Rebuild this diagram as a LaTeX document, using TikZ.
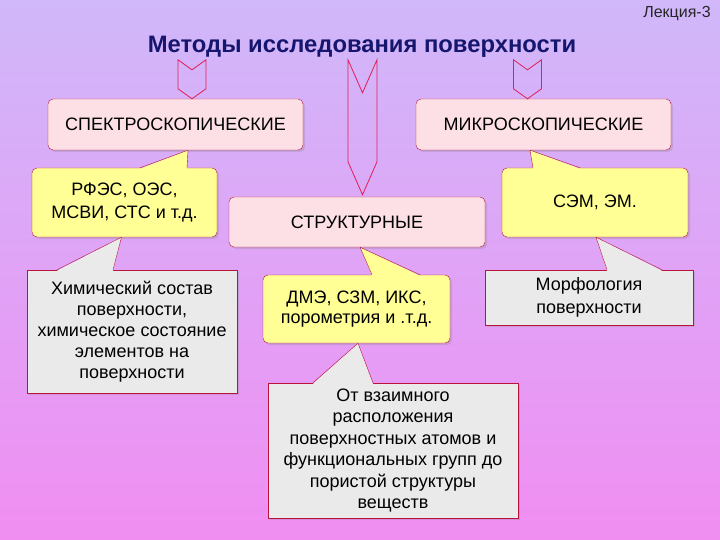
\documentclass[tikz,border=0pt]{standalone}
\usepackage{fontspec}
\setmainfont{Liberation Sans}
\usetikzlibrary{shadows}
\definecolor{bgtop}{RGB}{208,184,250}
\definecolor{bgbot}{RGB}{240,142,242}
\definecolor{boxpink}{RGB}{252,224,230}
\definecolor{calyellow}{RGB}{255,255,150}
\definecolor{calgray}{RGB}{234,234,234}
\definecolor{edgered}{RGB}{185,20,60}
\definecolor{arrowred}{RGB}{225,30,85}
\definecolor{titleblue}{RGB}{22,22,110}

\begin{document}
\begin{tikzpicture}[x=1pt, y=-1pt,
    every node/.style={font=\fontsize{18}{21}\selectfont, inner sep=2pt},
    kind/.style={draw=edgered, rounded corners=5pt, fill=boxpink, minimum width=255pt, minimum height=51pt,
        drop shadow={shadow xshift=2pt, shadow yshift=-2pt, opacity=0.25}},
    yellowbox/.style={draw=edgered, rounded corners=5pt, fill=calyellow, align=center,
        drop shadow={shadow xshift=2pt, shadow yshift=-2pt, opacity=0.25}},
    graybox/.style={draw=edgered, fill=calgray, align=center,
        drop shadow={shadow xshift=2pt, shadow yshift=-2pt, opacity=0.25}},
    tailline/.style={draw=edgered, line join=round},
    blockarrow/.style={draw=arrowred, line width=0.8pt, line join=miter}
]
% background
\shade[top color=bgtop, bottom color=bgbot] (0,0) rectangle (720,540);

\node[font=\fontsize{16}{18}\selectfont, text=black!85] (lecture) at (677,14) {Лекция-3};
\node[font=\fontsize{23.8}{26}\selectfont\bfseries, text=titleblue] (title) at (362,47) {Методы исследования поверхности};

% three kinds of methods
\node[kind] (spec) at (175.5,124.5) {СПЕКТРОСКОПИЧЕСКИЕ};
\node[kind] (micro) at (543.5,124.5) {МИКРОСКОПИЧЕСКИЕ};
\node[kind, minimum width=256pt, minimum height=50pt] (struct) at (357,222) {СТРУКТУРНЫЕ};

% block arrows from the title
\draw[blockarrow] ([xshift=16.5pt]spec.north) -- ++(-14,-10) -- ++(0,-29) -- ++(14,10) -- ++(14,-10) -- ++(0,29) -- cycle;
\draw[blockarrow] ([xshift=-16pt]micro.north) -- ++(-14,-10) -- ++(0,-29) -- ++(14,10) -- ++(14,-10) -- ++(0,29) -- cycle;
\draw[blockarrow] ([xshift=5.5pt,yshift=2pt]struct.north) -- ++(-14.5,-33) -- ++(0,-102) -- ++(14.5,33) -- ++(14.5,-33) -- ++(0,102) -- cycle;

% methods
\node[yellowbox, minimum width=185pt, minimum height=69pt, font=\fontsize{18}{23}\selectfont] (rfes) at (124.5,202.5) {РФЭС, ОЭС,\\МСВИ, СТС и т.д.};
\node[yellowbox, minimum width=186pt, minimum height=69pt] (sem) at (595,202.5) {СЭМ, ЭМ.};
\node[yellowbox, minimum width=187pt, minimum height=68pt, font=\fontsize{18}{20}\selectfont] (dme) at (356.5,309) {ДМЭ, СЗМ, ИКС,\\порометрия и .т.д.};

% what they give
\node[graybox, minimum width=210pt, minimum height=123pt] (chem) at (132,331.5) {Химический состав\\поверхности,\\химическое состояние\\элементов на\\поверхности};
\node[graybox, minimum width=208pt, minimum height=55pt, font=\fontsize{18}{23}\selectfont] (morph) at (589,297.5) {Морфология\\поверхности};
\node[graybox, minimum width=250pt, minimum height=135pt, font=\fontsize{18}{21.5}\selectfont] (otvz) at (393,450.5) {От взаимного\\расположения\\поверхностных атомов и\\функциональных групп до\\пористой структуры\\веществ};

% callout tails
\fill[calyellow] ([xshift=15.5pt,yshift=-1pt]rfes.north) -- ([xshift=12.5pt]spec.south) -- ([xshift=62.5pt,yshift=-1pt]rfes.north) -- cycle;
\draw[tailline] ([xshift=15.5pt]rfes.north) -- ([xshift=12.5pt]spec.south) -- ([xshift=62.5pt]rfes.north);
\fill[calyellow] ([xshift=-62pt,yshift=-1pt]sem.north) -- ([xshift=-13.5pt]micro.south) -- ([xshift=-15pt,yshift=-1pt]sem.north) -- cycle;
\draw[tailline] ([xshift=-62pt]sem.north) -- ([xshift=-13.5pt]micro.south) -- ([xshift=-15pt]sem.north);
\fill[calyellow] ([xshift=15.5pt,yshift=-1pt]dme.north) -- ([xshift=3pt]struct.south) -- ([xshift=63.5pt,yshift=-1pt]dme.north) -- cycle;
\draw[tailline] ([xshift=15.5pt]dme.north) -- ([xshift=3pt]struct.south) -- ([xshift=63.5pt]dme.north);
\fill[calgray] ([xshift=-75pt,yshift=-1pt]chem.north) -- ([xshift=-3pt]rfes.south) -- ([xshift=-19pt,yshift=-1pt]chem.north) -- cycle;
\draw[tailline] ([xshift=-75pt]chem.north) -- ([xshift=-3pt]rfes.south) -- ([xshift=-19pt]chem.north);
\fill[calgray] ([xshift=18pt,yshift=-1pt]morph.north) -- ([xshift=1pt]sem.south) -- ([xshift=73pt,yshift=-1pt]morph.north) -- cycle;
\draw[tailline] ([xshift=18pt]morph.north) -- ([xshift=1pt]sem.south) -- ([xshift=73pt]morph.north);
\fill[calgray] ([xshift=-80pt,yshift=-1pt]otvz.north) -- ([xshift=1.5pt]dme.south) -- ([xshift=-20pt,yshift=-1pt]otvz.north) -- cycle;
\draw[tailline] ([xshift=-80pt]otvz.north) -- ([xshift=1.5pt]dme.south) -- ([xshift=-20pt]otvz.north);
\end{tikzpicture}
\end{document}
